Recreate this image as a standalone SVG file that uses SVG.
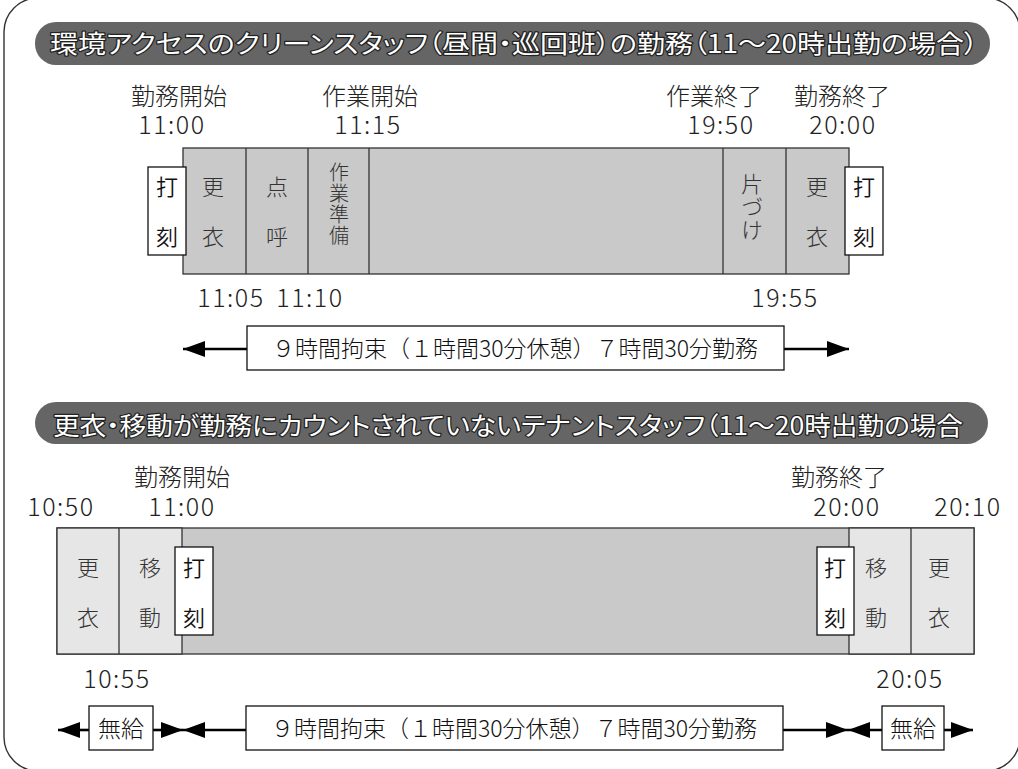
<svg xmlns="http://www.w3.org/2000/svg" width="1018" height="769" viewBox="0 0 1018 769">
<style>
text{font-family:"Noto Sans CJK JP","Noto Sans",sans-serif;fill:#222;font-weight:300}
.title{font-size:25px;fill:#fff;stroke:#222;stroke-width:2.4px;paint-order:stroke;stroke-linejoin:round;font-weight:400;font-feature-settings:"palt"}
.hd{font-size:24px;text-anchor:middle}
.tm{font-size:25px;text-anchor:middle;letter-spacing:1.5px}
.cell{font-size:22px;text-anchor:middle;fill:#333}
.vert{writing-mode:vertical-rl;fill:#333}
.stamp{font-size:22px;text-anchor:middle;fill:#111;font-weight:350}
.lbl{font-size:23px;text-anchor:middle;fill:#111}
.bar{stroke:#333;stroke-width:1.3}
.dark{fill:#c9c9c9}
.light{fill:#e6e6e6}
.box{fill:#fff;stroke:#111;stroke-width:1.3}
.arr{stroke:#000;stroke-width:2.6;fill:none}
</style>
<defs>
<marker id="ah" viewBox="0 0 22 16" refX="22" refY="8" markerWidth="22" markerHeight="16" markerUnits="userSpaceOnUse" orient="auto-start-reverse">
<path d="M0,0 L22,8 L0,16 Z" fill="#000"/>
</marker>
</defs>
<rect x="4" y="-2" width="1016" height="773" rx="34" fill="#fff" stroke="#333" stroke-width="1.4"/>

<g id="title1">
<rect x="35" y="22" width="955" height="43" rx="21" fill="#656565"/>
<text class="title" x="50" y="53" textLength="928" lengthAdjust="spacingAndGlyphs">環境アクセスのクリーンスタッフ（昼間・巡回班）の勤務（11〜20時出勤の場合）</text>
</g>

<g id="labels1">
<text class="hd" x="179" y="105">勤務開始</text>
<text class="tm" x="172" y="134">11:00</text>
<text class="hd" x="370" y="105">作業開始</text>
<text class="tm" x="368" y="134">11:15</text>
<text class="hd" x="714" y="105">作業終了</text>
<text class="tm" x="721" y="134">19:50</text>
<text class="hd" x="842" y="105">勤務終了</text>
<text class="tm" x="843" y="134">20:00</text>
<text class="tm" x="231" y="307">11:05</text>
<text class="tm" x="310" y="307">11:10</text>
<text class="tm" x="785" y="307">19:55</text>
</g>

<g id="bar1">
<rect class="bar dark" x="183" y="148" width="666" height="126"/>
<line class="bar" x1="246" y1="148" x2="246" y2="274"/>
<line class="bar" x1="308" y1="148" x2="308" y2="274"/>
<line class="bar" x1="369" y1="148" x2="369" y2="274"/>
<line class="bar" x1="723" y1="148" x2="723" y2="274"/>
<line class="bar" x1="786" y1="148" x2="786" y2="274"/>
<text class="cell" x="213" y="195">更</text>
<text class="cell" x="213" y="245">衣</text>
<text class="cell" x="277" y="195">点</text>
<text class="cell" x="277" y="245">呼</text>
<text class="vert" x="339" y="162" style="font-size:20px;letter-spacing:1.3px">作業準備</text>
<text class="vert" x="752" y="173" style="font-size:22px;letter-spacing:1px">片づけ</text>
<text class="cell" x="817" y="195">更</text>
<text class="cell" x="817" y="245">衣</text>
</g>

<g id="stamp1a">
<rect class="box" x="148" y="167" width="38" height="88"/>
<text class="stamp" x="167" y="195">打</text>
<text class="stamp" x="167" y="245">刻</text>
</g>
<g id="stamp1b">
<rect class="box" x="845" y="167" width="38" height="88"/>
<text class="stamp" x="864" y="195">打</text>
<text class="stamp" x="864" y="245">刻</text>
</g>

<g id="title2">
<rect x="35" y="402" width="953" height="42" rx="21" fill="#656565"/>
<text class="title" x="53" y="435" textLength="910" lengthAdjust="spacingAndGlyphs">更衣・移動が勤務にカウントされていないテナントスタッフ（11〜20時出勤の場合</text>
</g>

<g id="labels2">
<text class="hd" x="182" y="486">勤務開始</text>
<text class="tm" x="61" y="516">10:50</text>
<text class="tm" x="182" y="516">11:00</text>
<text class="hd" x="839" y="486">勤務終了</text>
<text class="tm" x="847" y="516">20:00</text>
<text class="tm" x="968" y="516">20:10</text>
<text class="tm" x="117" y="688">10:55</text>
<text class="tm" x="910" y="688">20:05</text>
</g>

<g id="bar2">
<rect class="bar dark" x="57" y="528" width="917" height="126"/>
<rect class="bar light" x="57" y="528" width="125" height="126"/>
<rect class="bar light" x="849" y="528" width="125" height="126"/>
<line class="bar" x1="119" y1="528" x2="119" y2="654"/>
<line class="bar" x1="911" y1="528" x2="911" y2="654"/>
<text class="cell" x="88" y="576">更</text>
<text class="cell" x="88" y="626">衣</text>
<text class="cell" x="150" y="576">移</text>
<text class="cell" x="150" y="626">動</text>
<text class="cell" x="876" y="576">移</text>
<text class="cell" x="876" y="626">動</text>
<text class="cell" x="939" y="576">更</text>
<text class="cell" x="939" y="626">衣</text>
</g>

<g id="stamp2a">
<rect class="box" x="175" y="547" width="38" height="88"/>
<text class="stamp" x="194" y="576">打</text>
<text class="stamp" x="194" y="626">刻</text>
</g>
<g id="stamp2b">
<rect class="box" x="817" y="547" width="37" height="88"/>
<text class="stamp" x="835" y="576">打</text>
<text class="stamp" x="835" y="626">刻</text>
</g>

<g id="connectors">
<line class="arr" x1="247" y1="349" x2="183" y2="349" marker-end="url(#ah)"/>
<line class="arr" x1="784" y1="349" x2="849" y2="349" marker-end="url(#ah)"/>
<line class="arr" x1="89" y1="730" x2="58" y2="730" marker-end="url(#ah)"/>
<line class="arr" x1="153" y1="730" x2="183" y2="730" marker-end="url(#ah)"/>
<line class="arr" x1="246" y1="730" x2="183" y2="730" marker-end="url(#ah)"/>
<line class="arr" x1="783" y1="730" x2="848" y2="730" marker-end="url(#ah)"/>
<line class="arr" x1="882" y1="730" x2="848" y2="730" marker-end="url(#ah)"/>
<line class="arr" x1="944" y1="730" x2="973" y2="730" marker-end="url(#ah)"/>
</g>

<g id="span1">
<rect class="box" x="247" y="326" width="537" height="44"/>
<text class="lbl" x="515" y="357">９時間拘束（１時間30分休憩）７時間30分勤務</text>
</g>
<g id="unpaid1">
<rect class="box" x="89" y="706" width="64" height="44"/>
<text class="lbl" x="121" y="737">無給</text>
</g>
<g id="span2">
<rect class="box" x="246" y="706" width="537" height="44"/>
<text class="lbl" x="514" y="737">９時間拘束（１時間30分休憩）７時間30分勤務</text>
</g>
<g id="unpaid2">
<rect class="box" x="882" y="706" width="62" height="44"/>
<text class="lbl" x="913" y="737">無給</text>
</g>
</svg>
